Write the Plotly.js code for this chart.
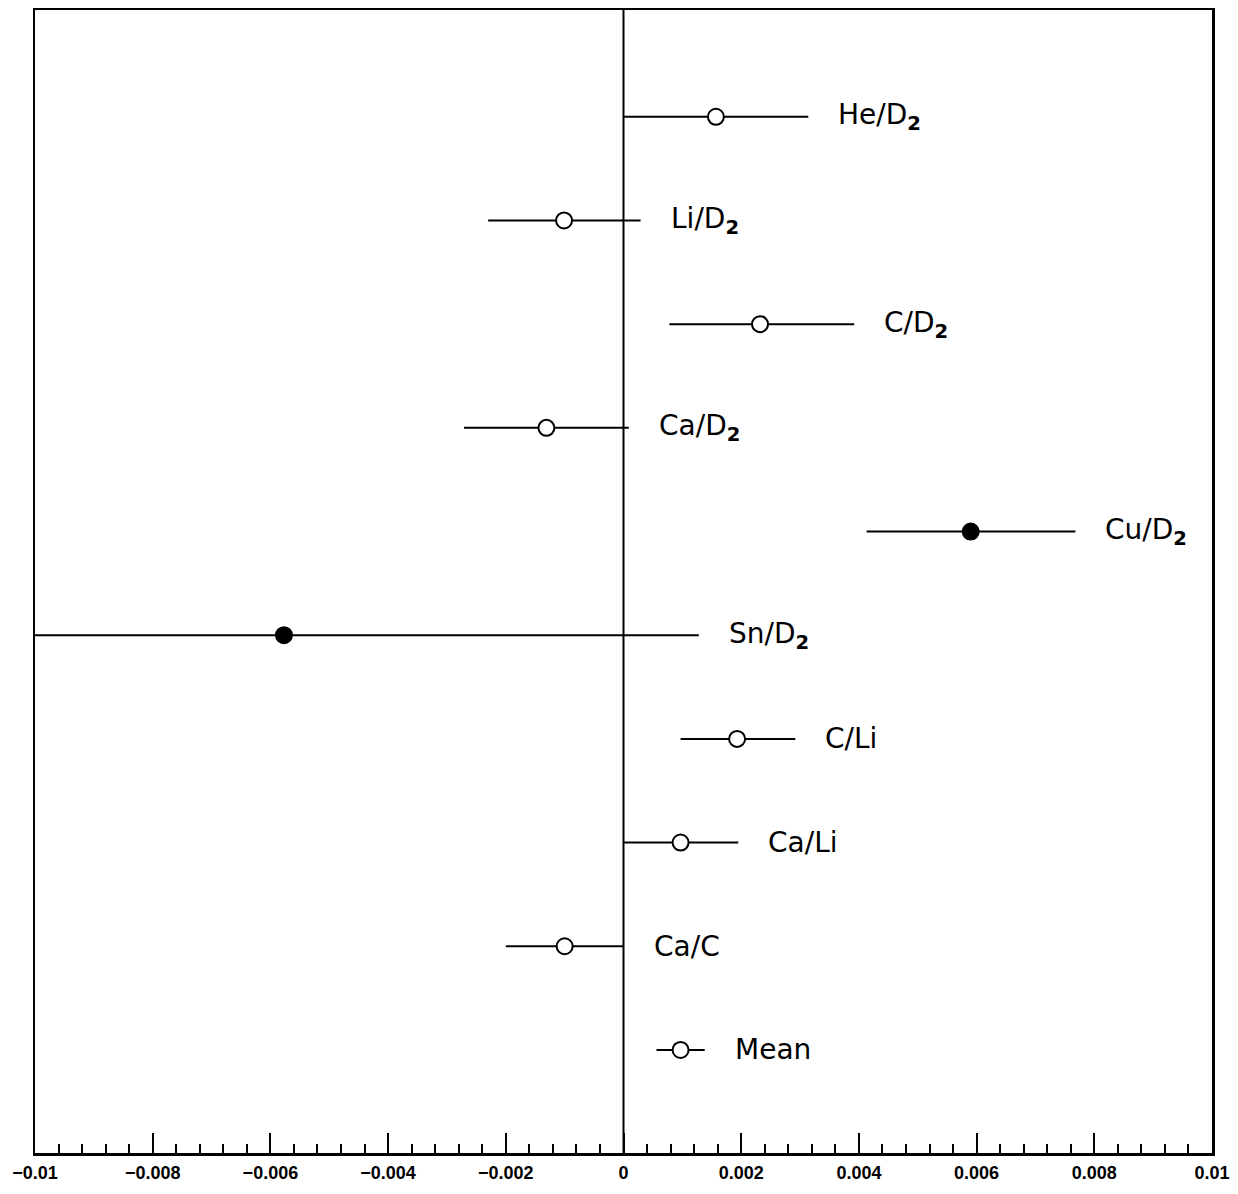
<!DOCTYPE html>
<html>
<head>
<meta charset="utf-8">
<script src="https://cdn.plot.ly/plotly-3.0.1.min.js"></script>
<style>html,body{margin:0;padding:0;background:#fff;}#chart{width:1238px;height:1194px;}</style>
</head>
<body>
<div id="chart"></div>
<script>
// Data (top to bottom)
const labels = ["He/D<sub><b>2</b></sub>", "Li/D<sub><b>2</b></sub>", "C/D<sub><b>2</b></sub>", "Ca/D<sub><b>2</b></sub>", "Cu/D<sub><b>2</b></sub>", "Sn/D<sub><b>2</b></sub>", "C/Li", "Ca/Li", "Ca/C", "Mean"];
const values = [0.00157, -0.00101, 0.00232, -0.00131, 0.0059, -0.00577, 0.00193, 0.00097, -0.00100, 0.00097];
const errLow = [0.00157, 0.00129, 0.00154, 0.00140, 0.00177, 0.00705, 0.00096, 0.00097, 0.00100, 0.00041];
const errHigh = [0.00157, 0.00130, 0.00160, 0.00140, 0.00178, 0.00705, 0.00099, 0.00098, 0.00100, 0.00041];
const filled = [false, false, false, false, true, true, false, false, false, false];
const tickVals = [-0.01, -0.008, -0.006, -0.004, -0.002, 0, 0.002, 0.004, 0.006, 0.008, 0.01];
const tickText = ["\u22120.01", "\u22120.008", "\u22120.006", "\u22120.004", "\u22120.002", "0", "0.002", "0.004", "0.006", "0.008", "0.01"];

const n = labels.length;
const ypos = labels.map((_, i) => n - i);

const trace = {
  type: 'scatter',
  mode: 'markers',
  x: values,
  y: ypos,
  error_x: {type: 'data', symmetric: false, array: errHigh, arrayminus: errLow, width: 0, thickness: 2, color: '#000'},
  marker: {
    symbol: 'circle',
    size: 16,
    color: filled.map(f => f ? '#000' : '#fff'),
    line: {color: '#000', width: 2}
  },
  cliponaxis: true,
  hoverinfo: 'skip',
  showlegend: false
};

const annotations = labels.map((t, i) => ({
  x: values[i] + errHigh[i],
  y: ypos[i],
  xref: 'x', yref: 'y',
  text: t,
  showarrow: false,
  xanchor: 'left',
  yanchor: 'middle',
  xshift: 28,
  font: {family: 'DejaVu Sans, sans-serif', size: 28, color: '#000'}
}));

const layout = {
  width: 1238, height: 1194,
  margin: {l: 35, r: 26, t: 10, b: 41},
  paper_bgcolor: '#fff', plot_bgcolor: '#fff',
  xaxis: {
    range: [-0.01, 0.01],
    tickvals: tickVals,
    ticktext: tickText,
    ticks: 'inside', ticklen: 20, tickwidth: 2, tickcolor: '#000',
    minor: {dtick: 0.0004, tick0: 0, ticks: 'inside', ticklen: 9, tickwidth: 2, tickcolor: '#000', showgrid: false},
    showgrid: false, zeroline: false,
    showline: true, linecolor: '#000', linewidth: 2.5, mirror: true,
    tickfont: {family: 'Liberation Sans, Arial, sans-serif', size: 18, color: '#000', weight: 'bold'},
    ticklabelstandoff: 2,
    fixedrange: true
  },
  yaxis: {
    range: [0.006, 11.03],
    showticklabels: false, ticks: '', showgrid: false, zeroline: false,
    showline: true, linecolor: '#000', linewidth: 2.5, mirror: true,
    fixedrange: true
  },
  shapes: [{type: 'line', xref: 'x', yref: 'paper', x0: 0, x1: 0, y0: 0, y1: 1, line: {color: '#000', width: 2}, layer: 'below'}],
  annotations: annotations
};

Plotly.newPlot('chart', [trace], layout, {displayModeBar: false, staticPlot: true});
</script>
</body>
</html>
